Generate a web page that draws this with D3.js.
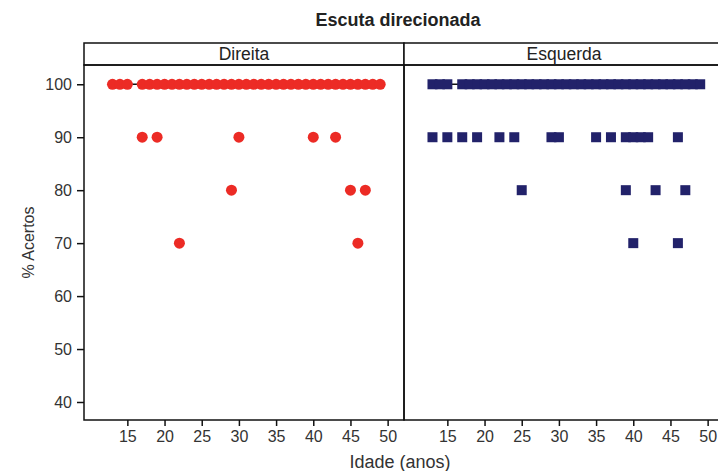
<!DOCTYPE html>
<html>
<head>
<meta charset="utf-8">
<script src="https://cdn.jsdelivr.net/npm/d3@7"></script>
<style>
  html, body { margin: 0; padding: 0; background: #fff; overflow: hidden; }
  svg { display: block; font-family: "Liberation Sans", Arial, sans-serif; }
</style>
</head>
<body>
<svg id="chart" width="718" height="471"></svg>
<script>
// ages (anos), grouped by % acertos
const panels = ['Direita', 'Esquerda'];
const levels = [100, 90, 80, 70];

const direita100 = [13, 14, 15, 17, 18, 19, 20, 21, 22, 23, 24, 25, 26, 27, 28, 29, 30, 31, 32, 33, 34, 35, 36, 37, 38, 39, 40, 41, 42, 43, 44, 45, 46, 47, 48, 49];
const direita90 = [17, 19, 30, 40, 43];
const direita80 = [29, 45, 47];
const direita70 = [22, 46];

const esquerda100 = [13, 14, 15, 17, 18, 19, 20, 21, 22, 23, 24, 25, 26, 27, 28, 29, 30, 31, 32, 33, 34, 35, 36, 37, 38, 39, 40, 41, 42, 43, 44, 45, 46, 47, 48, 49];
const esquerda90 = [13, 15, 17, 19, 22, 24, 29, 30, 35, 37, 39, 40, 41, 42, 46];
const esquerda80 = [25, 39, 43, 47];
const esquerda70 = [40, 46];

const xTicks = [15, 20, 25, 30, 35, 40, 45, 50];
const yTicks = [40, 50, 60, 70, 80, 90, 100];

const seriesByPanel = {
  Direita: [direita100, direita90, direita80, direita70],
  Esquerda: [esquerda100, esquerda90, esquerda80, esquerda70]
};

const svg = d3.select('#chart');

// layout
const padLeft = 84, panelW = 320, stripTop = 43, stripH = 22, plotBottom = 420;
const plotTop = stripTop + stripH;

const x = d3.scaleLinear().domain([9.17, 52.2]).range([0, panelW]);
const y = d3.scaleLinear().domain([36.6, 103.64]).range([plotBottom, plotTop]);

// title
svg.append('text')
  .attr('x', 398).attr('y', 26)
  .attr('text-anchor', 'middle')
  .attr('font-size', '18px')
  .attr('font-weight', 'bold')
  .attr('fill', '#222')
  .text('Escuta direcionada');

// y axis (only on the left panel)
const yAxis = svg.append('g')
  .attr('transform', `translate(${padLeft},0)`)
  .call(d3.axisLeft(y).tickValues(yTicks).tickSize(7).tickPadding(5));
yAxis.select('.domain').remove();
yAxis.selectAll('line').attr('stroke', '#111').attr('stroke-width', 1.5);
yAxis.selectAll('text').attr('font-size', '16px').attr('fill', '#333')
  .attr('font-family', '"Liberation Sans", Arial, sans-serif');

svg.append('text')
  .attr('transform', `translate(28,${(plotTop + plotBottom) / 2}) rotate(-90)`)
  .attr('text-anchor', 'middle')
  .attr('dy', '0.35em')
  .attr('font-size', '16px')
  .attr('fill', '#333')
  .text('% Acertos');

const colors = { Direita: '#ec2b25', Esquerda: '#22226a' };

panels.forEach((name, pi) => {
  const g = svg.append('g').attr('transform', `translate(${padLeft + pi * panelW},0)`);

  // strip
  g.append('rect')
    .attr('x', 0).attr('y', stripTop)
    .attr('width', panelW).attr('height', stripH)
    .attr('fill', '#fff').attr('stroke', '#111').attr('stroke-width', 1.5);
  g.append('text')
    .attr('x', panelW / 2).attr('y', stripTop + stripH / 2)
    .attr('dy', '0.36em')
    .attr('text-anchor', 'middle')
    .attr('font-size', '17.5px')
    .attr('fill', '#222')
    .text(name);

  // x axis
  const xa = g.append('g')
    .attr('transform', `translate(0,${plotBottom})`)
    .call(d3.axisBottom(x).tickValues(xTicks).tickSize(6).tickPadding(5));
  xa.select('.domain').remove();
  xa.selectAll('line').attr('stroke', '#111').attr('stroke-width', 1.5);
  xa.selectAll('text').attr('font-size', '16px').attr('fill', '#333')
    .attr('font-family', '"Liberation Sans", Arial, sans-serif');

  const series = seriesByPanel[name];

  // connecting line at 100%
  g.append('line')
    .attr('x1', x(d3.min(series[0]))).attr('x2', x(d3.max(series[0])))
    .attr('y1', y(100)).attr('y2', y(100))
    .attr('stroke', '#111').attr('stroke-width', 1.5);

  const pts = [];
  series.forEach((ages, li) => ages.forEach(a => pts.push({ age: a, pct: levels[li] })));

  if (name === 'Direita') {
    g.selectAll('circle.pt')
      .data(pts)
      .enter().append('circle')
        .attr('class', 'pt')
        .attr('cx', d => x(d.age))
        .attr('cy', d => y(d.pct))
        .attr('r', 5.5)
        .attr('fill', colors[name]);
  } else {
    const s = 10;
    g.selectAll('rect.pt')
      .data(pts)
      .enter().append('rect')
        .attr('class', 'pt')
        .attr('x', d => x(d.age) - s / 2)
        .attr('y', d => y(d.pct) - s / 2)
        .attr('width', s).attr('height', s)
        .attr('fill', colors[name]);
  }

  // panel border
  g.append('rect')
    .attr('x', 0).attr('y', plotTop)
    .attr('width', panelW).attr('height', plotBottom - plotTop)
    .attr('fill', 'none').attr('stroke', '#111').attr('stroke-width', 1.5);
});

svg.append('text')
  .attr('x', 400).attr('y', 468)
  .attr('text-anchor', 'middle')
  .attr('font-size', '18px')
  .attr('fill', '#333')
  .text('Idade (anos)');
</script>
</body>
</html>
